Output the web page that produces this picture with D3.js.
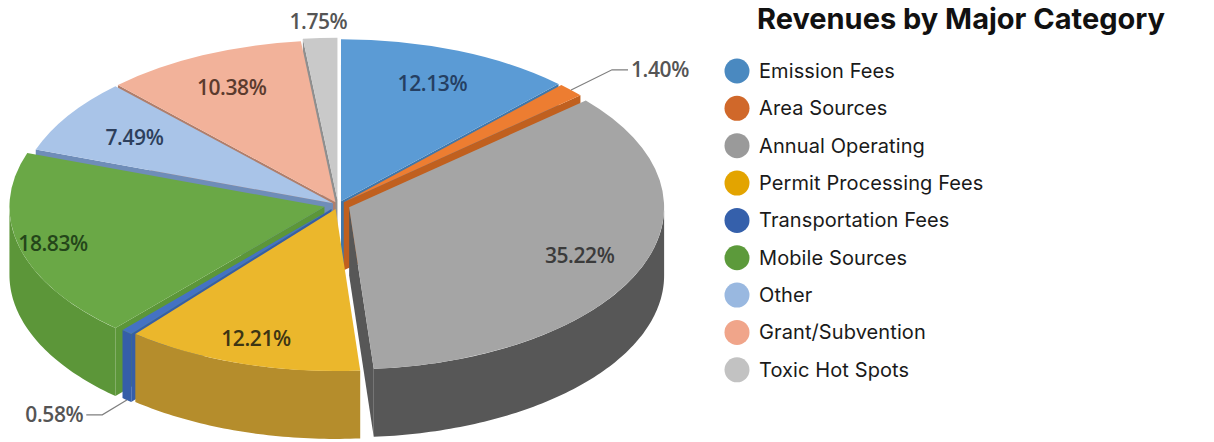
<!DOCTYPE html>
<html>
<head>
<meta charset="utf-8">
<script src="https://cdn.jsdelivr.net/npm/d3@7"></script>
<style>
  body { margin: 0; background: #fff; }
  svg { display: block; }
</style>
</head>
<body>
<svg id="chart" width="1214" height="442"></svg>
<script>
// data, clockwise from 12 o'clock
const categories = ["Emission Fees", "Area Sources", "Annual Operating", "Permit Processing Fees",
    "Transportation Fees", "Mobile Sources", "Other", "Grant/Subvention", "Toxic Hot Spots"];
const shares = [12.13, 1.40, 35.22, 12.21, 0.58, 18.83, 7.49, 10.38, 1.75];
const title = "Revenues by Major Category";

// styling
const topColors = ["#5b9bd5", "#ed7d31", "#a5a5a5", "#ebb72c", "#4472c4", "#6aa846", "#a9c4e8", "#f2b29a", "#c9c9c9"];
const sideColors = ["#3f77ab", "#c0601f", "#575757", "#b58d2c", "#355ea8", "#5c9639", "#6f8db8", "#b07e6b", "#8f8f8f"];
const legendColors = ["#4a89c0", "#d0682a", "#9a9a9a", "#e3a400", "#3560ab", "#5c9a3b", "#99b8e0", "#f0a58a", "#c2c2c2"];
const labelColors = ["#253f62", "#555", "#3b3b3b", "#3d3514", "#555", "#24461a", "#2d3f5c", "#5b3b2e", "#555"];
const explode = [8, 8, 12, 8, 10, 14, 6, 6, 10];
const labelRadius = [0.78, 1.18, 0.79, 0.84, 1.12, 0.89, 0.75, 0.78, 1.1];
const labelMode = ["in", "right", "in", "in", "left", "in", "in", "in", "top"];

const svg = d3.select("#chart");
const cx = 338, cy = 205, rx = 315, ry = 162, depth = 68;
const k = ry / rx;

const pie = d3.pie().sort(null).value(d => d);
const slices = pie(shares).map((p, i) => {
    const m = (p.startAngle + p.endAngle) / 2;
    return Object.assign({}, p, {
        i: i, m: m,
        ox: explode[i] * Math.sin(m),
        oy: -explode[i] * Math.cos(m) * k
    });
});

function pt(s, a, r, z) {
    return [cx + s.ox + rx * r * Math.sin(a), cy + s.oy - ry * r * Math.cos(a) + (z || 0)];
}
const line = d3.line();

// radial (cut) faces
const radial = [];
slices.forEach(s => {
    if (Math.sin(s.startAngle) < -1e-6) radial.push({s: s, a: s.startAngle});
    if (Math.sin(s.endAngle) > 1e-6) radial.push({s: s, a: s.endAngle});
});
radial.sort((p, q) => pt(p.s, p.a, 1)[1] - pt(q.s, q.a, 1)[1]);

svg.append("g").selectAll("path")
    .data(radial)
    .join("path")
    .attr("d", d => line([pt(d.s, d.a, 0), pt(d.s, d.a, 1), pt(d.s, d.a, 1, depth), pt(d.s, d.a, 0, depth)]) + "Z")
    .attr("fill", d => sideColors[d.s.i]);

// outer walls (front half only)
const walls = slices.filter(s => Math.min(s.endAngle, 1.5 * Math.PI) > Math.max(s.startAngle, 0.5 * Math.PI));
svg.append("g").selectAll("path")
    .data(walls)
    .join("path")
    .attr("d", s => {
        const a0 = Math.max(s.startAngle, 0.5 * Math.PI), a1 = Math.min(s.endAngle, 1.5 * Math.PI);
        const n = Math.max(2, Math.ceil((a1 - a0) * 60));
        const as = d3.range(n + 1).map(j => a0 + (a1 - a0) * j / n);
        const top = as.map(a => pt(s, a, 1));
        const bot = as.map(a => pt(s, a, 1, depth)).reverse();
        return line(top.concat(bot)) + "Z";
    })
    .attr("fill", s => sideColors[s.i]);

// top faces
const arc = d3.arc().innerRadius(0).outerRadius(rx);
svg.append("g").selectAll("path")
    .data(slices)
    .join("path")
    .attr("transform", s => `translate(${cx + s.ox},${cy + s.oy}) scale(1,${k})`)
    .attr("d", arc)
    .attr("fill", s => topColors[s.i]);

// data labels
const fmt = v => d3.format(".2f")(v) + "%";
const lab = svg.append("g")
    .attr("font-family", "'Open Sans', sans-serif")
    .attr("font-size", 21)
    .attr("font-weight", 600)
    .attr("letter-spacing", "-0.4");

slices.forEach(s => {
    const mode = labelMode[s.i];
    let p, anchor = "middle";
    if (mode === "in" || mode === "top") {
        p = pt(s, s.m, labelRadius[s.i]);
    } else {
        const z = mode === "left" ? depth : 0;
        const p1 = pt(s, s.m, 1.0, z);
        const p2 = pt(s, s.m, labelRadius[s.i], z);
        const dir = mode === "left" ? -1 : 1;
        const p3 = [p2[0] + dir * 16, p2[1]];
        lab.append("path")
            .attr("d", line([p1, p2, p3]))
            .attr("fill", "none")
            .attr("stroke", "#7f7f7f")
            .attr("stroke-width", 1.2);
        p = [p3[0] + dir * 3, p3[1]];
        anchor = mode === "left" ? "end" : "start";
    }
    lab.append("text")
        .attr("x", p[0])
        .attr("y", p[1])
        .attr("dy", "0.36em")
        .attr("text-anchor", anchor)
        .attr("fill", labelColors[s.i])
        .text(fmt(s.data));
});

// title
svg.append("text")
    .attr("x", 961)
    .attr("y", 29)
    .attr("text-anchor", "middle")
    .attr("font-family", "Inter, sans-serif")
    .attr("font-weight", 700)
    .attr("font-size", 29)
    .attr("fill", "#111")
    .text(title);

// legend
const legend = svg.append("g")
    .attr("font-family", "Inter, sans-serif")
    .attr("font-size", 20)
    .attr("letter-spacing", "0.1")
    .selectAll("g")
    .data(categories)
    .join("g")
    .attr("transform", (d, i) => `translate(737,${71 + i * 37.35})`);

legend.append("circle")
    .attr("r", 12.5)
    .attr("fill", (d, i) => legendColors[i]);

legend.append("text")
    .attr("x", 22)
    .attr("dy", "0.35em")
    .attr("fill", "#1a1a1a")
    .text(d => d);
</script>
</body>
</html>
